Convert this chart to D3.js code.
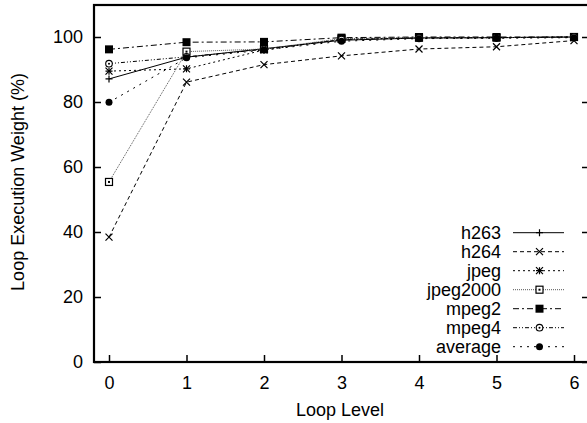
<!DOCTYPE html>
<html><head><meta charset="utf-8">
<script src="https://cdn.jsdelivr.net/npm/d3@7"></script>
<style>body{margin:0;background:#fff}svg{display:block}text{font-family:"Liberation Sans",Arial,sans-serif;fill:#000}</style>
</head><body>
<script>
const levels = [0, 1, 2, 3, 4, 5, 6];
const seriesNames = ["h263", "h264", "jpeg", "jpeg2000", "mpeg2", "mpeg4", "average"];
const h263 = [87.1, 93.8, 96.4, 99.0, 99.7, 99.8, 100];
const h264 = [38.4, 86.1, 91.5, 94.2, 96.3, 97.0, 98.9];
const jpeg = [89.5, 90.2, 96.0, 99.3, 99.7, 99.8, 100];
const jpeg2000 = [55.4, 95.5, 96.3, 99.5, 99.8, 99.8, 100];
const mpeg2 = [96.2, 98.4, 98.5, 99.8, 100, 100, 100];
const mpeg4 = [91.8, 93.9, 96.2, 99.2, 99.7, 99.8, 100];
const average = [79.9, 93.6, 96.0, 98.7, 99.5, 99.6, 99.8];
const yTicks = [0, 20, 40, 60, 80, 100];
const xTicks = [0, 1, 2, 3, 4, 5, 6];

const W = 587, H = 423;
const L = 94, R = 589, T = 5, B = 362;
const FS = 18;
const svg = d3.select("body").append("svg").attr("width", W).attr("height", H);
const x = d3.scaleLinear().domain([-0.2, 6.2]).range([L - 0.5, R + 0.5]);
const y = d3.scaleLinear().domain([0, 110]).range([B, B - 110 * 3.25]);

const data = [h263, h264, jpeg, jpeg2000, mpeg2, mpeg4, average];
const styles = [
  {dash: null, marker: "plus", color: "#000"},
  {dash: "4,3", marker: "cross", color: "#000"},
  {dash: "2,3", marker: "star", color: "#000"},
  {dash: "1,1", marker: "osquare", color: "#555"},
  {dash: "6,3,2,3", marker: "fsquare", color: "#000"},
  {dash: "4,2,1,2,1,2", marker: "ocircle", color: "#000"},
  {dash: "2,5", marker: "fcircle", color: "#000"}
];

// axes with inward ticks
const yAxis = d3.axisLeft(y).tickValues(yTicks).tickSizeInner(-7).tickSizeOuter(0).tickPadding(11);
const gy = svg.append("g").attr("transform", `translate(${L},0)`).call(yAxis);
gy.select(".domain").remove();
gy.selectAll("text").attr("font-size", FS);
const yAxisR = d3.axisRight(y).tickValues(yTicks).tickSizeInner(-7).tickSizeOuter(0).tickFormat("");
const gyr = svg.append("g").attr("transform", `translate(${R},0)`).call(yAxisR);
gyr.select(".domain").remove();

const xAxis = d3.axisBottom(x).tickValues(xTicks).tickFormat(d3.format("d")).tickSizeInner(-7).tickSizeOuter(0).tickPadding(14);
const gx = svg.append("g").attr("transform", `translate(0,${B})`).call(xAxis);
gx.select(".domain").remove();
gx.selectAll("text").attr("font-size", FS);
svg.selectAll(".tick line").attr("stroke", "#000").attr("stroke-width", 1.5);

// frame
svg.append("rect").attr("x", L).attr("y", T).attr("width", R - L).attr("height", B - T)
  .attr("fill", "none").attr("stroke", "#000").attr("stroke-width", 2.2);

// titles
svg.append("text").attr("x", 340).attr("y", 416).attr("text-anchor", "middle")
  .attr("font-size", FS).text("Loop Level");
svg.append("text").attr("transform", `translate(24,${182}) rotate(-90)`)
  .attr("text-anchor", "middle").attr("font-size", FS).text("Loop Execution Weight (%)");

function drawMarker(g, kind, cx, cy, color) {
  const s = 3.5;
  if (kind === "plus" || kind === "star") {
    g.append("path").attr("d", `M${cx - s},${cy}H${cx + s}M${cx},${cy - s}V${cy + s}`).attr("stroke", color).attr("stroke-width", 1.2);
  }
  if (kind === "cross" || kind === "star") {
    g.append("path").attr("d", `M${cx - s},${cy - s}L${cx + s},${cy + s}M${cx - s},${cy + s}L${cx + s},${cy - s}`).attr("stroke", color).attr("stroke-width", 1.2);
  }
  if (kind === "osquare") {
    g.append("rect").attr("x", cx - 3.5).attr("y", cy - 3.5).attr("width", 7).attr("height", 7).attr("fill", "#fff").attr("stroke", "#000").attr("stroke-width", 1.2);
    g.append("rect").attr("x", cx - 1).attr("y", cy - 1).attr("width", 2).attr("height", 2).attr("fill", "#000");
  }
  if (kind === "fsquare") {
    g.append("rect").attr("x", cx - 4).attr("y", cy - 4).attr("width", 8).attr("height", 8).attr("fill", "#000");
  }
  if (kind === "ocircle") {
    g.append("circle").attr("cx", cx).attr("cy", cy).attr("r", 3.3).attr("fill", "#fff").attr("stroke", "#000").attr("stroke-width", 1.1);
    g.append("circle").attr("cx", cx).attr("cy", cy).attr("r", 1).attr("fill", "#000");
  }
  if (kind === "fcircle") {
    g.append("circle").attr("cx", cx).attr("cy", cy).attr("r", 3.5).attr("fill", "#000");
  }
}

const line = d3.line().x((d, i) => x(levels[i])).y(d => y(d));
data.forEach((vals, k) => {
  const st = styles[k];
  const g = svg.append("g");
  g.append("path").attr("d", line(vals)).attr("fill", "none").attr("stroke", st.color)
    .attr("stroke-width", 1).attr("stroke-dasharray", st.dash);
  vals.forEach((v, i) => drawMarker(g, st.marker, x(levels[i]), y(v), st.color));
});

// legend
const legY0 = 232.7, legDy = 19;
seriesNames.forEach((name, k) => {
  const st = styles[k];
  const yy = legY0 + k * legDy;
  const g = svg.append("g");
  g.append("text").attr("x", 501).attr("y", yy + 6.5).attr("text-anchor", "end").attr("font-size", FS).text(name);
  g.append("line").attr("x1", 513).attr("x2", 564).attr("y1", yy).attr("y2", yy)
    .attr("stroke", st.color).attr("stroke-width", 1).attr("stroke-dasharray", st.dash);
  drawMarker(g, st.marker, 539.5, yy, st.color);
});
</script>
</body></html>
